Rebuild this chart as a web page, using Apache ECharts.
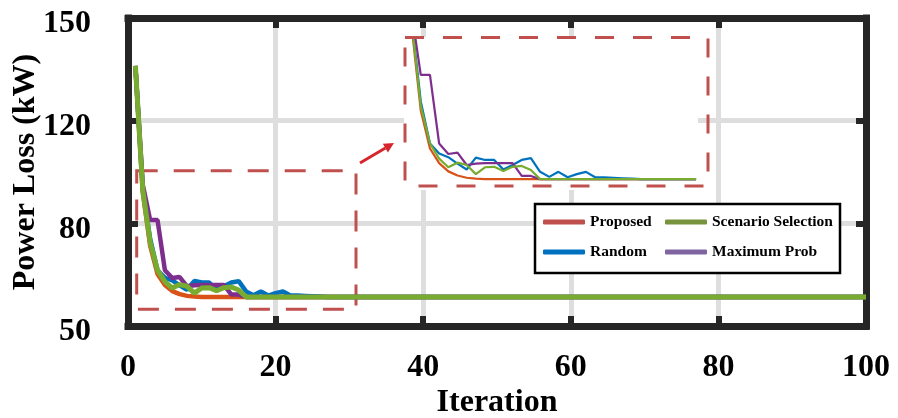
<!DOCTYPE html>
<html><head><meta charset="utf-8">
<script src="https://cdn.jsdelivr.net/npm/echarts@6/dist/echarts.min.js"></script>
<style>html,body{margin:0;padding:0;background:#fff}#c{width:898px;height:418px}</style>
</head><body><div id="c"></div>
<script>
// ---- data ----
const iterations = [1,2,3,4,5,6,7,8,9,10,11,12,13,14,15,16,17,18,19,20,21,22,23,24,25,26,27,28,29,30,31,32,33,100];
const proposed = [136,92,73.5,65.2,62.0,60.2,59.3,58.8,58.6,58.5,58.5,58.5,58.5,58.5,58.5,58.5,58.5,58.5,58.5,58.5,58.5,58.5,58.5,58.5,58.5,58.5,58.5,58.5,58.5,58.5,58.5,58.5,58.5,58.5];
const random   = [136,93.5,75.5,66.3,64.1,63.3,61.9,60.6,63.2,62.7,62.7,60.6,61.6,62.7,63.1,60.1,59.0,60.1,58.9,59.6,60.1,58.9,58.9,58.8,58.7,58.6,58.5,58.5,58.5,58.5,58.5,58.5,58.5,58.5];
const maxProb  = [136,95,81.3,81.3,66.3,64.0,64.3,61.6,61.9,62.0,62.0,62.0,62.0,59.2,59.2,58.5,58.5,58.5,58.5,58.5,58.5,58.5,58.5,58.5,58.5,58.5,58.5,58.5,58.5,58.5,58.5,58.5,58.5,58.5];
const scenario = [136,93,74.5,66.3,63.0,61.1,62.1,61.6,59.6,61.1,61.2,60.3,61.2,61.4,60.5,58.5,58.5,58.5,58.5,58.5,58.5,58.5,58.5,58.5,58.5,58.5,58.5,58.5,58.5,58.5,58.5,58.5,58.5,58.5];
const seriesNames = ['Proposed','Random','Maximum Prob','Scenario Selection'];
const yTickValues = [50,80,120,150];
const yTickLabels = ['50','80','120','150'];
const insetLastIteration = 33;

// y axis of the main plot has evenly spaced ticks labelled 50/80/120/150 -> piecewise scale
function toAxis(v){
  for(let i=0;i<yTickValues.length-1;i++){
    const a=yTickValues[i], b=yTickValues[i+1];
    if(v<=b || i===yTickValues.length-2) return i+(v-a)/(b-a);
  }
}
const mainPts = arr => iterations.map((k,i)=>[k, toAxis(arr[i])]);
const insetPts = arr => iterations.map((k,i)=>[k, arr[i]]).filter(p=>p[0]<=insetLastIteration);

const font = '"Liberation Serif","Times New Roman",serif';
const frame = '#262626';
const gridC = '#dedede';
const lineColors = ['#D95319','#0072BD','#7E2F8E','#77AC30'];
const legendColors = ['#C0504D','#0070C0','#8064A2','#77933C'];
const dataArr = [proposed, random, maxProb, scenario];

const frameLine = {show:true, onZero:false, lineStyle:{color:frame, width:7, cap:'square'}};
const tick = {show:true, inside:true, length:10, lineStyle:{color:frame, width:6}};
const split = {show:true, lineStyle:{color:gridC, width:5}};
const lblStyle = {color:'#000', fontFamily:font, fontWeight:'bold', fontSize:32};
const nameStyle = {color:'#000', fontFamily:font, fontWeight:'bold', fontSize:32};

const series = [];
dataArr.forEach((arr,i)=>{
  series.push({type:'line', name:seriesNames[i], xAxisIndex:0, yAxisIndex:0, data:mainPts(arr),
    symbol:'none', lineStyle:{width: i===3?5:4.5, color:lineColors[i]}, itemStyle:{color:lineColors[i]}, z:2+i*0.1});
});
dataArr.forEach((arr,i)=>{
  series.push({type:'line', name:seriesNames[i], xAxisIndex:2, yAxisIndex:2, data:insetPts(arr), clip:true,
    symbol:'none', lineStyle:{width:2.2, color:lineColors[i]}, itemStyle:{color:lineColors[i]}, z:3+i*0.1});
});

const legendItem = i => ({name:seriesNames[i], icon:'roundRect', itemStyle:{color:legendColors[i], borderWidth:0}});
const legendBase = {orient:'vertical', padding:0, itemWidth:42, itemHeight:5, itemGap:12, selectedMode:false,
  textStyle:{fontFamily:font, fontWeight:'bold', fontSize:15.5, color:'#000', lineHeight:18}, z:6};

// arrow geometry
const aS=[360,163], aT=[394,143];
const dx=aT[0]-aS[0], dy=aT[1]-aS[1], L=Math.hypot(dx,dy), ux=dx/L, uy=dy/L;
const hb=[aT[0]-10*ux, aT[1]-10*uy];

const option = {
  animation:false,
  backgroundColor:'#fff',
  grid:[{left:128, right:32, top:18, bottom:92, show:false, containLabel:false, outerBoundsMode:'none'},
        {left:405, top:37, width:303, height:149, show:false, containLabel:false, outerBoundsMode:'none'}],
  xAxis:[
    {gridIndex:0, type:'value', min:0, max:100, interval:20, position:'bottom', axisLine:frameLine, axisTick:tick,
     axisLabel:Object.assign({margin:26}, lblStyle), splitLine:split,
     name:'Iteration', nameLocation:'middle', nameGap:61, nameMoveOverlap:false, nameTextStyle:nameStyle},
    {gridIndex:0, type:'value', min:0, max:100, interval:20, position:'top', axisLine:frameLine, axisTick:tick,
     axisLabel:{show:false}, splitLine:{show:false}},
    {gridIndex:1, type:'value', min:1.28, max:34.3, show:false}
  ],
  yAxis:[
    {gridIndex:0, type:'value', min:0, max:3, interval:1, position:'left', axisLine:frameLine, axisTick:tick,
     axisLabel:Object.assign({margin:37, formatter:v=>yTickLabels[v], verticalAlign:'top', lineHeight:12}, lblStyle), splitLine:split,
     name:'Power Loss (kW)', nameLocation:'middle', nameGap:86, nameRotate:90, nameMoveOverlap:false, nameTextStyle:nameStyle},
    {gridIndex:0, type:'value', min:0, max:3, interval:1, position:'right', axisLine:frameLine, axisTick:tick,
     axisLabel:{show:false}, splitLine:{show:false}},
    {gridIndex:1, type:'value', min:57, max:89.6, show:false}
  ],
  legend:[
    Object.assign({left:543, top:213, data:[legendItem(0), legendItem(1)]}, legendBase),
    Object.assign({left:665, top:213, data:[legendItem(3), legendItem(2)]}, legendBase)
  ],
  graphic:[
    {type:'rect', z:1, shape:{x:404, y:37, width:294, height:153}, style:{fill:'#fff'}},
    {type:'rect', z:10, shape:{x:405, y:37.5, width:303, height:148.5}, style:{fill:'none', stroke:'#C0504D', lineWidth:3, lineDash:[19,19]}},
    {type:'rect', z:1, shape:{x:136.7, y:170.7, width:219.3, height:138.6}, style:{fill:'none', stroke:'#C0504D', lineWidth:3, lineDash:[21,16]}},
    {type:'line', z:10, shape:{x1:aS[0], y1:aS[1], x2:hb[0], y2:hb[1]}, style:{stroke:'#D7262B', lineWidth:3}},
    {type:'polygon', z:10, shape:{points:[aT,[hb[0]+5*uy, hb[1]-5*ux],[hb[0]-5*uy, hb[1]+5*ux]]}, style:{fill:'#D7262B'}},
    {type:'rect', z:3, shape:{x:535, y:204, width:305, height:69}, style:{fill:'#fff', stroke:'#000', lineWidth:2.5}}
  ],
  series:series
};
const chart = echarts.init(document.getElementById('c'));
chart.setOption(option);
</script>
</body></html>
